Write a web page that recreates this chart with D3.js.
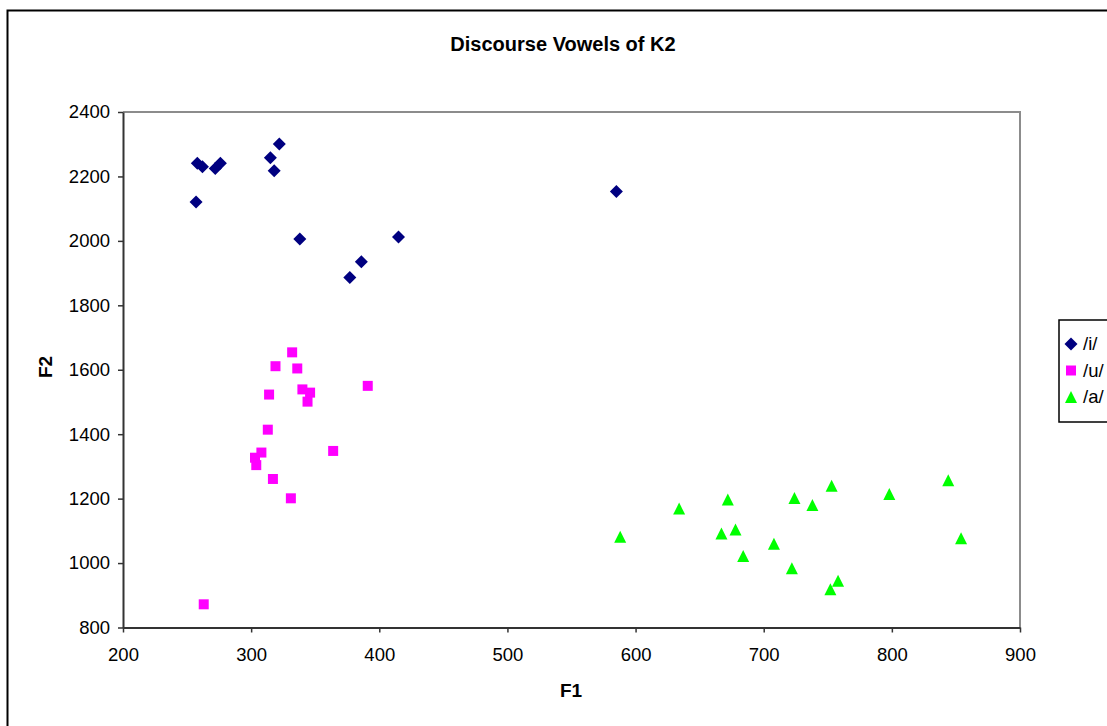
<!DOCTYPE html>
<html>
<head>
<meta charset="utf-8">
<script src="https://cdn.jsdelivr.net/npm/d3@7/dist/d3.min.js"></script>
<style>
html,body{margin:0;padding:0;background:#fff;}
svg{display:block;font-family:"Liberation Sans",Arial,sans-serif;}
</style>
</head>
<body>
<svg id="chart" width="1107" height="726"></svg>
<script>
const title = "Discourse Vowels of K2";
const xTitle = "F1";
const yTitle = "F2";
const xTicks = [200, 300, 400, 500, 600, 700, 800, 900];
const yTicks = [800, 1000, 1200, 1400, 1600, 1800, 2000, 2200, 2400];
const seriesNames = ["/i/", "/u/", "/a/"];

const iF1 = [258, 262, 272, 276, 322, 315, 318, 257, 338, 415, 386, 377, 585];
const iF2 = [2241, 2230, 2225, 2241, 2301, 2258, 2218, 2121, 2006, 2012, 1935, 1886, 2153];

const uF1 = [332, 319, 336, 391, 314, 340, 346, 344, 313, 364, 308, 303, 304, 317, 331, 263];
const uF2 = [1654, 1611, 1604, 1550, 1523, 1539, 1529, 1501, 1414, 1348, 1343, 1327, 1304, 1261, 1201, 872];

const aF1 = [588, 634, 672, 724, 738, 753, 667, 678, 708, 684, 722, 758, 752, 798, 844, 854];
const aF2 = [1082, 1169, 1197, 1202, 1180, 1240, 1092, 1104, 1060, 1022, 984, 945, 919, 1214, 1257, 1077];

const colors = ["#000080", "#FF00FF", "#00FF00"];

const svg = d3.select("#chart");

// outer chart frame
svg.append("rect").attr("x", 7.5).attr("y", 10.5).attr("width", 1130).attr("height", 740)
  .attr("fill", "#fff").attr("stroke", "#000").attr("stroke-width", 2);

const L = 123, R = 1020, T = 112, B = 627.5;
const x = d3.scaleLinear().domain([200, 900]).range([L, R]);
const y = d3.scaleLinear().domain([800, 2400]).range([B, T]);

// plot area border (top/right grey)
svg.append("path").attr("d", `M${L},${T}H${R}V${B}`).attr("fill", "none")
  .attr("stroke", "#8c8c8c").attr("stroke-width", 2);

const fontSize = 18.5;
const fmt = d3.format("d");

const xAxis = svg.append("g").attr("transform", `translate(0,${B})`)
  .call(d3.axisBottom(x).tickValues(xTicks).tickFormat(fmt).tickSize(5).tickSizeOuter(0).tickPadding(15));
const yAxis = svg.append("g").attr("transform", `translate(${L},0)`)
  .call(d3.axisLeft(y).tickValues(yTicks).tickFormat(fmt).tickSize(5).tickSizeOuter(0).tickPadding(8));
[xAxis, yAxis].forEach(g => {
  g.select(".domain").attr("stroke", "#333").attr("stroke-width", 2);
  g.selectAll(".tick line").attr("stroke", "#333").attr("stroke-width", 1.5);
  g.selectAll(".tick text").attr("fill", "#000").attr("font-size", fontSize)
    .attr("font-family", "Liberation Sans, Arial, sans-serif");
});

// titles
svg.append("text").attr("x", 563).attr("y", 51).attr("text-anchor", "middle")
  .attr("font-size", 20).attr("font-weight", "bold").text(title);
svg.append("text").attr("x", 571).attr("y", 697).attr("text-anchor", "middle")
  .attr("font-size", 19).attr("font-weight", "bold").text(xTitle);
svg.append("text").attr("transform", "translate(52,367) rotate(-90)").attr("text-anchor", "middle")
  .attr("font-size", 19).attr("font-weight", "bold").text(yTitle);

// symbols
const diamond = { draw(ctx, size) { const r = Math.sqrt(size) / 2; ctx.moveTo(0, -r); ctx.lineTo(r, 0); ctx.lineTo(0, r); ctx.lineTo(-r, 0); ctx.closePath(); } };
const square = { draw(ctx, size) { const r = Math.sqrt(size) / 2; ctx.rect(-r, -r, 2 * r, 2 * r); } };
const triangle = { draw(ctx, size) { const r = Math.sqrt(size) / 2; ctx.moveTo(0, -r); ctx.lineTo(r, r); ctx.lineTo(-r, r); ctx.closePath(); } };
const shapes = [d3.symbol().type(diamond).size(13 * 13), d3.symbol().type(square).size(10 * 10), d3.symbol().type(triangle).size(12 * 12)];

const series = [
  iF1.map((v, k) => [v, iF2[k]]),
  uF1.map((v, k) => [v, uF2[k]]),
  aF1.map((v, k) => [v, aF2[k]])
];

series.forEach((pts, s) => {
  svg.append("g").selectAll("path").data(pts).join("path")
    .attr("transform", d => `translate(${x(d[0])},${y(d[1])})`)
    .attr("d", shapes[s]()).attr("fill", colors[s]);
});

// legend
const lg = svg.append("g");
lg.append("rect").attr("x", 1059).attr("y", 320).attr("width", 80).attr("height", 102)
  .attr("fill", "#fff").attr("stroke", "#000").attr("stroke-width", 1.5);
const legY = [344, 370.5, 397];
seriesNames.forEach((n, s) => {
  lg.append("path").attr("transform", `translate(1071,${legY[s]})`).attr("d", shapes[s]()).attr("fill", colors[s]);
  lg.append("text").attr("x", 1083).attr("y", legY[s]).attr("dy", "0.35em")
    .attr("font-size", fontSize).text(n);
});
</script>
</body>
</html>
